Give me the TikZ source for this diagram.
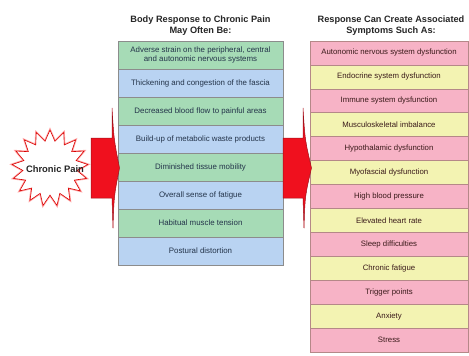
\documentclass[tikz,border=0pt]{standalone}
\usepackage{fontspec}
\setmainfont{Liberation Sans}
\usetikzlibrary{shapes.geometric}
\definecolor{gbox}{HTML}{A6DBB6}
\definecolor{bbox}{HTML}{B9D3F2}
\definecolor{pbox}{HTML}{F7B3C6}
\definecolor{ybox}{HTML}{F3F3B2}
\definecolor{lline}{HTML}{8C8C8C}
\definecolor{rline}{HTML}{B58888}
\definecolor{ltext}{HTML}{24344A}
\definecolor{rtext}{HTML}{3A1A1A}
\definecolor{arrred}{HTML}{F0101E}
\definecolor{arredge}{HTML}{A0101A}
\tikzset{
  lbox/.style={draw=lline, line width=0.6pt, minimum width=165pt, minimum height=28pt,
    inner sep=1pt, align=center, text=ltext, font=\fontsize{7.9}{9.6}\selectfont},
  rbox/.style={draw=rline, line width=0.6pt, minimum width=158pt, minimum height=23.92pt,
    inner sep=1pt, align=center, text=rtext, font=\fontsize{7.8}{9.4}\selectfont},
  ttl/.style={align=center, font=\bfseries\fontsize{9.2}{11.5}\selectfont, text=black!85},
  bigarrow/.style={fill=arrred, draw=arredge, line width=0.5pt, line join=round}
}
\begin{document}
\begin{tikzpicture}[x=1pt,y=-1pt]
\useasboundingbox (0,0) rectangle (469,356);
\fill[white] (0,0) rectangle (469,356);

% titles
\node[ttl] (ltitle) at (200.5,25.5) {Body Response to Chronic Pain\\May Often Be:};
\node[ttl] (rtitle) at (391,25.5) {Response Can Create Associated\\Symptoms Such As:};

% left column
\foreach \t [count=\i] in {
  {Adverse strain on the peripheral, central\\and autonomic nervous systems},
  {Thickening and congestion of the fascia},
  {Decreased blood flow to painful areas},
  {Build-up of metabolic waste products},
  {Diminished tissue mobility},
  {Overall sense of fatigue},
  {Habitual muscle tension},
  {Postural distortion}}{
  \pgfmathtruncatemacro\odd{mod(\i,2)}
  \ifnum\odd=1 \def\fc{gbox}\else\def\fc{bbox}\fi
  \node[lbox, fill=\fc] (L\i) at (200.5,{41+14+28*(\i-1)}) {\t};
}

% right column
\foreach \t [count=\i] in {
  {Autonomic nervous system dysfunction},
  {Endocrine system dysfunction},
  {Immune system dysfunction},
  {Musculoskeletal imbalance},
  {Hypothalamic dysfunction},
  {Myofascial dysfunction},
  {High blood pressure},
  {Elevated heart rate},
  {Sleep difficulties},
  {Chronic fatigue},
  {Trigger points},
  {Anxiety},
  {Stress}}{
  \pgfmathtruncatemacro\odd{mod(\i,2)}
  \ifnum\odd=1 \def\fc{pbox}\else\def\fc{ybox}\fi
  \node[rbox, fill=\fc] (R\i) at (389,{41+11.96+23.92*(\i-1)}) {\t};
}

% starburst
\node[star, star points=17, star point ratio=1.4, minimum size=76pt, inner sep=0pt,
  draw=red!35, line width=2.2pt] (starglow) at (50,168) {};
\node[star, star points=17, star point ratio=1.4, minimum size=76pt, inner sep=0pt,
  fill=white, draw=red!85!black, line width=0.6pt] (pain) at (50,168) {};
\node[font=\bfseries\fontsize{9.4}{10}\selectfont, text=black!85] (paintext) at (55,169) {Chronic Pain};

% arrows
\draw[bigarrow] (91,138) -- (112,138) -- (112,108)
  .. controls (114,140) .. (119.5,168)
  .. controls (114,196) .. (113,228) -- (112,198) -- (91,198) -- cycle;
\draw[bigarrow] (283,138) -- (303,138) -- (303,108)
  .. controls (305,140) .. (311.5,168)
  .. controls (305,196) .. (304,228) -- (303,198) -- (283,198) -- cycle;
\end{tikzpicture}
\end{document}
